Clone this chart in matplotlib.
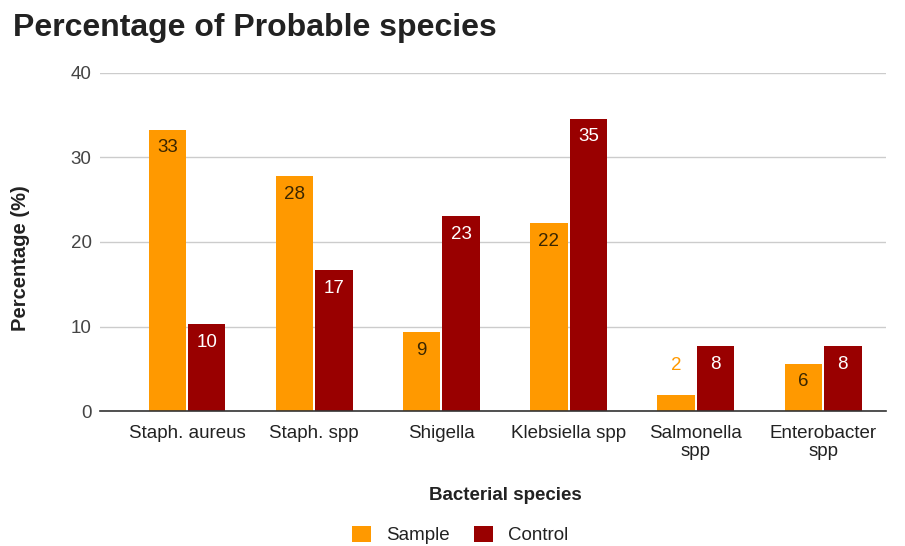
import matplotlib
matplotlib.use("Agg")
import matplotlib.pyplot as plt
import numpy as np
from matplotlib.patches import Patch

plt.rcParams['font.family'] = ['Liberation Sans', 'DejaVu Sans']

categories = ["Staph. aureus", "Staph. spp", "Shigella", "Klebsiella spp",
              "Salmonella\nspp", "Enterobacter\nspp"]
sample = [33.3, 27.8, 9.3, 22.2, 1.9, 5.6]
control = [10.3, 16.7, 23.1, 34.6, 7.7, 7.7]
series_names = ["Sample", "Control"]
y_ticks = [0, 10, 20, 30, 40]

SAMPLE_COLOR = "#FF9900"
CONTROL_COLOR = "#990000"
FS = 13.5

fig = plt.figure(figsize=(9.05, 5.46), dpi=100)
ax = fig.add_axes([100 / 905, 1 - 411 / 546, 786 / 905, 338 / 546])

x = np.arange(len(categories))
w = 0.295
off = 0.155
b1 = ax.bar(x - off, sample, w, color=SAMPLE_COLOR, zorder=3)
b2 = ax.bar(x + off, control, w, color=CONTROL_COLOR, zorder=3)

ax.set_xlim(-0.684, 5.495)
ax.set_ylim(0, 40)
ax.set_yticks(y_ticks)
ax.set_xticks(x)
ax.set_xticklabels(categories, fontsize=FS, color="#222222", linespacing=1.12)
ax.tick_params(axis='y', length=0, pad=6, labelsize=FS, labelcolor="#444444")
ax.tick_params(axis='x', length=0, pad=10)

ax.grid(axis='y', color="#cccccc", linewidth=1, zorder=0)
for s in ["top", "right", "left"]:
    ax.spines[s].set_visible(False)
ax.spines["bottom"].set_color("#333333")
ax.spines["bottom"].set_linewidth(1.2)
ax.spines["bottom"].set_zorder(4)


def label_bars(bars, values, inside_color, outside_color):
    for rect, v in zip(bars, values):
        cx = rect.get_x() + rect.get_width() / 2
        txt = f"{v:.0f}"
        if v < 3:
            ax.annotate(txt, xy=(cx, v), xytext=(0, 21), textcoords='offset points',
                        ha='center', va='center', fontsize=FS, color=outside_color, zorder=5)
        else:
            ax.annotate(txt, xy=(cx, v), xytext=(0, -7), textcoords='offset points',
                        ha='center', va='top', fontsize=FS, color=inside_color, zorder=5)


label_bars(b1, sample, "#3a2600", SAMPLE_COLOR)
label_bars(b2, control, "#ffffff", CONTROL_COLOR)

fig.text(13 / 905, 1 - 28 / 546, "Percentage of Probable species", fontsize=23,
         fontweight='bold', color="#222222", ha='left', va='center')
fig.text(21 / 905, 1 - 258 / 546, "Percentage (%)", fontsize=14.5, fontweight='bold',
         color="#222222", rotation=90, ha='center', va='center')
fig.text(505 / 905, 1 - 496 / 546, "Bacterial species", fontsize=FS, fontweight='bold',
         color="#222222", ha='center', va='center')

handles = [Patch(facecolor=SAMPLE_COLOR), Patch(facecolor=CONTROL_COLOR)]
fig.legend(handles, series_names, loc='center', bbox_to_anchor=(460 / 905, 1 - 535 / 546),
           ncol=2, frameon=False, fontsize=FS, handlelength=1.0, handleheight=1.0,
           handletextpad=0.8, columnspacing=1.3, labelcolor="#222222")

fig.savefig("out.png", dpi=100, facecolor="white")
